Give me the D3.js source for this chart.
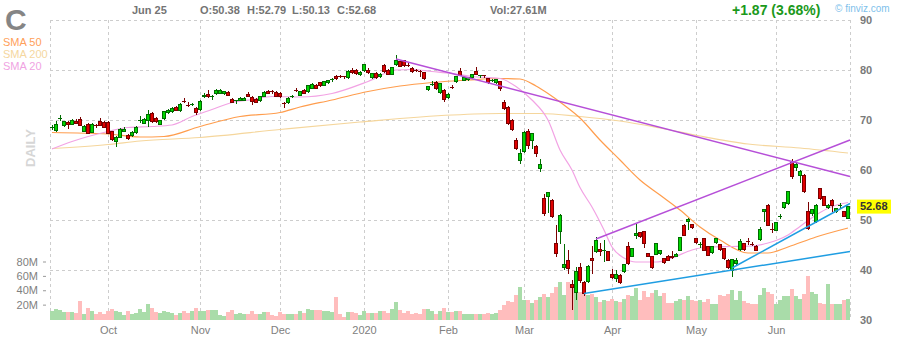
<!DOCTYPE html>
<html>
<head>
<meta charset="utf-8">
<script src="https://cdn.jsdelivr.net/npm/d3@7"></script>
<style>
body { margin: 0; background: #fff; }
svg { display: block; font-family: Arial, "Liberation Sans", sans-serif; }
</style>
</head>
<body>
<div id="chart"></div>
<script>
// C daily, Sep 11 2019 - Jun 25 2020 (one row per month)
const opens = [
  68.5,67.9,70.2,68.9,69.6,69.2,69.8,70.2,67.8,69.2,67.6,69.0,69.8,69.6,
  69.6,67.7,65.8,66.6,67.8,67.0,66.9,67.6,69.9,69.4,70.0,71.3,70.4,69.2,70.3,71.5,71.7,72.5,71.9,73.8,73.1,73.1,72.3,
  72.1,74.7,75.2,74.6,75.3,75.4,75.3,75.5,74.1,73.8,74.0,74.0,75.1,74.5,74.1,73.9,74.8,75.7,75.7,75.5,
  75.4,73.5,73.5,74.6,76.1,75.0,76.0,75.7,76.4,77.0,77.5,77.0,77.5,77.9,78.8,78.8,78.7,78.5,80.0,80.0,79.1,
  79.9,79.9,78.5,79.3,78.7,80.9,80.0,79.2,81.1,81.7,81.9,81.1,80.3,80.0,79.8,79.5,76.1,77.1,77.5,75.5,76.0,
  74.5,76.6,77.7,79.8,78.0,78.1,78.5,79.8,78.8,78.9,78.3,77.8,77.5,77.7,73.5,72.5,70.0,66.0,62.0,
  63.7,67.7,66.0,64.8,60.3,54.3,54.8,54.0,45.3,47.7,40.5,42.0,37.2,35.5,40.5,37.5,37.7,42.3,43.7,44.2,44.0,43.7,
  39.2,38.3,39.0,39.7,44.8,42.8,46.9,47.5,47.7,43.3,42.7,43.2,43.3,42.3,42.8,42.8,42.8,44.0,49.0,49.7,49.1,
  46.3,45.1,46.3,44.7,43.5,45.5,45.1,44.3,42.0,40.0,41.3,44.1,45.3,45.9,45.3,44.8,46.1,51.7,53.0,48.1,
  48.0,50.6,52.5,53.3,61.5,60.5,59.0,59.0,51.7,51.3,49.8,56.3,54.7,52.5,54.0,51.7,52.8,51.7,50.38
];
const highs = [
  69.0,69.8,71.0,69.9,69.8,70.3,70.2,70.6,69.0,69.4,69.4,69.2,70.4,69.8,
  69.8,67.9,66.8,68.4,68.6,67.2,67.8,68.8,70.8,70.4,72.0,71.6,70.6,70.0,71.8,72.2,72.6,72.8,73.4,74.4,73.6,73.5,72.6,
  74.0,75.5,76.0,75.0,76.2,76.2,75.9,75.8,74.4,74.1,74.6,74.6,75.6,74.8,74.4,74.9,75.8,76.0,76.0,75.8,
  75.7,73.7,74.6,75.0,76.4,75.9,76.2,77.0,77.4,77.3,77.7,77.9,78.1,78.4,79.0,79.0,78.9,80.0,80.4,80.2,79.8,
  81.3,80.4,79.5,79.6,79.4,81.2,80.2,80.7,83.0,81.9,82.1,81.4,80.6,80.2,80.0,79.7,76.9,77.8,77.8,77.5,76.2,
  75.4,77.0,78.9,80.5,78.7,78.7,79.3,80.7,79.1,79.1,78.5,78.2,78.3,77.9,74.0,72.8,70.3,66.4,64.3,
  67.8,68.3,67.5,65.0,62.3,55.3,55.6,54.3,49.0,51.3,45.2,44.0,38.0,40.6,41.5,37.8,41.0,44.8,46.6,45.4,46.0,43.9,
  40.3,40.0,39.2,41.3,45.7,44.5,49.3,47.7,47.9,43.5,42.9,45.5,44.1,42.5,43.0,43.8,43.4,46.7,49.3,50.5,49.3,
  46.5,45.6,46.5,44.9,44.9,46.5,45.3,44.5,42.2,42.3,42.4,46.2,45.5,46.4,45.6,45.0,48.6,52.2,53.2,49.5,
  49.7,51.3,53.7,55.9,62.3,61.5,60.0,59.2,53.7,52.3,53.2,56.5,54.9,53.2,54.2,52.5,53.4,51.9,52.79
];
const lows = [
  68.0,67.6,69.8,68.7,68.2,69.0,69.2,68.8,67.6,67.2,67.4,68.4,68.8,68.4,
  67.2,65.8,64.6,66.4,67.6,66.0,66.6,67.2,69.5,69.2,68.6,69.4,69.4,69.0,70.1,71.3,71.5,71.8,71.6,73.4,72.6,72.8,71.0,
  71.9,74.5,74.5,74.0,75.1,75.2,75.1,74.8,73.4,73.2,73.8,73.8,74.6,73.1,73.4,73.7,74.6,75.2,75.3,74.6,
  74.5,72.4,73.3,74.4,75.6,74.8,75.2,75.5,76.2,76.2,76.7,76.8,77.3,77.7,78.1,78.4,78.2,78.3,79.3,79.1,78.9,
  79.7,79.3,78.3,78.3,78.5,79.5,79.0,79.0,80.9,80.6,80.7,80.6,79.5,79.6,78.7,78.1,75.8,76.8,76.1,75.3,73.6,
  74.3,76.2,77.5,78.8,77.8,77.9,78.3,79.0,78.5,78.4,77.3,77.6,77.3,75.9,72.0,69.1,67.8,64.0,61.3,
  63.5,64.3,64.3,62.6,59.7,50.8,51.4,50.4,42.7,45.3,40.0,39.3,32.0,34.0,37.4,34.8,37.5,39.3,43.5,42.8,41.7,41.8,
  38.3,37.7,37.3,39.5,41.1,42.6,46.3,46.5,44.4,42.6,40.3,43.0,43.1,41.3,41.8,42.3,42.6,43.8,46.8,48.1,48.3,
  45.3,44.4,43.8,42.8,43.3,45.3,43.9,42.1,40.3,38.7,41.1,43.9,43.9,45.0,44.8,43.8,45.9,49.7,48.8,47.5,
  47.8,50.3,52.3,53.1,58.3,59.8,57.5,55.5,48.1,50.9,49.4,54.1,52.8,52.3,51.7,51.5,52.2,50.6,50.13
];
const closes = [
  68.7,69.2,70.4,69.7,69.2,70.0,69.4,69.0,68.8,67.4,69.2,68.8,69.0,68.6,
  67.4,66.1,66.6,68.2,68.2,66.4,67.5,68.6,70.1,70.2,71.2,69.7,69.7,69.9,71.7,72.0,72.3,72.0,73.2,73.7,73.0,73.3,71.5,
  73.8,75.0,74.7,74.8,76.0,76.0,75.7,74.9,73.6,73.9,74.3,74.4,74.7,73.7,73.5,74.7,75.5,75.3,75.6,74.8,
  74.8,73.2,74.3,74.8,76.0,75.8,75.4,76.9,77.2,76.4,76.9,77.7,77.9,78.2,78.3,78.7,78.6,79.7,79.5,79.3,79.6,
  81.1,79.5,79.3,78.5,79.2,79.7,79.2,80.5,81.9,80.8,80.9,81.0,79.7,79.9,79.6,78.3,76.7,77.3,76.3,77.3,74.1,
  75.1,76.5,78.7,79.0,78.5,78.5,79.1,79.1,78.9,78.8,77.5,77.9,78.1,76.3,72.3,69.3,68.1,64.3,63.3,
  67.5,65.0,67.3,63.3,61.1,51.3,55.5,50.7,43.3,51.0,41.2,40.3,36.5,39.7,38.0,35.3,40.8,41.9,46.0,43.7,44.1,42.0,
  38.5,39.1,37.5,41.1,41.3,44.3,47.3,46.7,45.3,42.8,40.5,45.3,43.9,41.5,42.0,42.5,43.2,46.5,47.0,50.1,48.5,
  45.5,45.2,44.0,43.0,44.7,46.3,44.1,42.3,40.5,42.1,42.0,45.7,44.1,45.8,45.2,44.0,48.1,52.1,49.0,48.0,
  49.5,50.8,53.5,55.7,58.7,61.2,59.7,55.7,48.3,52.1,53.0,54.3,53.0,53.0,53.0,52.3,53.0,50.8,52.68
];
// volume in millions
const volumes = [
  11,14,12.5,10,10,10,8.6,25,7.6,15,11,7,10,7,
  11,13.8,11,10,6,11,7.6,8.6,13.8,10,20.7,15,10,8.6,11,10,8.6,6,8.6,11,8.6,11,15.7,
  11,11,12.4,12.4,12.4,6,4.6,10,12.4,7.6,8.6,7.6,7.6,11,7.6,7,10,10,6,4.6,
  10,7.6,7.6,7.6,7,11,8.7,13.8,12,12.5,12.5,11,11,10,31,7,3,10,10,8.6,6,
  11,8.6,8.6,8.6,11,11,8.6,14.5,24,13,8.6,11,7,8.6,7,14,14,11,7,11,16,
  10,10,11,11,7,7,7,7,7,7,8.6,7,8.6,12.4,19,25,23,33,44.6,
  27,26,22.5,27,30,35,30,36,44.6,51,34,51,48,40,37.6,36,34,35,30,24,26,25,
  27.6,25,24,28,33,32,42.8,26,38.6,31,36,40,32,36,21.6,22.5,25,28.5,27,32,27,
  25,26,23.6,28.5,20.7,20.7,33,32,35,40,26,38.6,25,21.6,21,21,33,42.8,37.6,35,
  21,26,32,32,42,32,28.5,35,60,37.6,35,22.5,21,49,21,21,21,26,27.61
];

// month label, index of first trading day
const months = [["Oct",14],["Nov",37],["Dec",57],["2020",78],["Feb",99],["Mar",118],["Apr",140],["May",161],["Jun",181]];
const priceTicks = [30, 40, 50, 60, 70, 80, 90];
const volTicks = [20, 40, 60, 80];

// moving averages: [day index, value]
const sma20 = [[0,64.2],[5,65.7],[14,67.7],[19,68.5],[25,68.7],[30,69.0],[35,70.7],[40,72.1],[45,73.5],[50,74.1],[55,74.7],[62,74.6],[70,75.3],[79,77.7],[86,80.0],[90,80.1],[95,79.7],[100,79.3],[105,78.7],[112,78.3],[116,76.7],[120,74.0],[124,70.0],[127,64.0],[130,60.0],[132,56.5],[135,52.6],[138,48.0],[140,44.6],[143,42.4],[146,41.6],[151,41.6],[155,42.4],[160,44.0],[164,44.6],[170,44.7],[175,44.8],[179,45.4],[184,47.0],[187,48.7],[191,51.0],[195,52.7],[199,53.5]];
const sma50 = [[0,67.5],[14,67.2],[22,66.6],[28,66.7],[37,68.7],[47,70.7],[57,71.5],[62,72.6],[70,74.0],[79,75.7],[87,76.8],[95,77.5],[104,78.0],[112,78.3],[117,78.2],[121,76.8],[124,75.3],[128,73.0],[132,70.4],[137,66.0],[142,62.0],[147,58.0],[152,55.0],[157,52.0],[162,48.6],[167,46.0],[174,43.4],[179,43.4],[184,44.6],[191,46.6],[199,48.4]];
const sma200 = [[0,64.3],[14,65.1],[22,65.8],[37,66.5],[57,68.1],[77,69.6],[100,71.0],[112,71.3],[122,71.3],[132,70.7],[142,69.8],[152,68.4],[162,66.8],[174,65.2],[187,64.4],[199,63.4]];

// trend lines: [[day, price], [day, price]]
const purpleLines = [[[86,82.2],[199.5,58.7]], [[136,46.2],[199.5,66.0]]];
const blueLines = [[[133,35.3],[199.5,43.7]], [[170,40.4],[199.5,53.3]]];

const width = 900, height = 340;
const n = opens.length;

x = d3.scaleLinear().domain([0, n - 1]).range([52, 848]);
y = d3.scaleLinear().domain([30, 90]).range([320, 20]);
yVol = d3.scaleLinear().domain([0, 80]).range([319, 261.5]);

const isUp = i => closes[i] >= opens[i];

const svg = d3.create("svg")
    .attr("width", width)
    .attr("height", height)
    .attr("viewBox", [0, 0, width, height]);

// grid
const grid = svg.append("g")
    .attr("stroke", "#cdcdcd")
    .attr("stroke-dasharray", "3,3")
    .attr("shape-rendering", "crispEdges");
grid.selectAll("line.h")
    .data(priceTicks.filter(d => d > 30))
    .join("line")
    .attr("x1", 50).attr("x2", 851)
    .attr("y1", d => Math.round(y(d)) + 0.5)
    .attr("y2", d => Math.round(y(d)) + 0.5);
grid.selectAll("line.v")
    .data([50, ...months.map(m => x(m[1])), 850])
    .join("line")
    .attr("x1", d => Math.round(d) + 0.5).attr("x2", d => Math.round(d) + 0.5)
    .attr("y1", 20).attr("y2", 320);

// volume
svg.append("g")
    .attr("shape-rendering", "crispEdges")
    .selectAll("rect")
    .data(d3.range(n))
    .join("rect")
    .attr("x", i => Math.round(x(i)) - 2)
    .attr("width", 4)
    .attr("y", i => yVol(volumes[i]))
    .attr("height", i => 320 - yVol(volumes[i]))
    .attr("fill", i => isUp(i) ? "#a9dca9" : "#ffbdbd");

// moving averages
const maLine = d3.line()
    .x(d => x(d[0]))
    .y(d => y(d[1]))
    .curve(d3.curveMonotoneX);
[[sma200, "#f5d69c"], [sma50, "#ff9d4d"], [sma20, "#f2a3e4"]].forEach(([data, color]) => {
    svg.append("path")
        .attr("d", maLine(data))
        .attr("fill", "none")
        .attr("stroke", color)
        .attr("stroke-width", 1.2);
});

// candles
const candles = svg.append("g").attr("shape-rendering", "crispEdges");
candles.selectAll("g")
    .data(d3.range(n))
    .join("g")
    .each(function (i) {
        const g = d3.select(this);
        const cx = Math.round(x(i)) + 0.5;
        const edge = isUp(i) ? "#006b00" : "#7a0000";
        const fill = isUp(i) ? "#00d600" : "#e00000";
        g.append("line")
            .attr("x1", cx).attr("x2", cx)
            .attr("y1", y(highs[i])).attr("y2", y(lows[i]))
            .attr("stroke", edge);
        const top = y(Math.max(opens[i], closes[i]));
        const bot = y(Math.min(opens[i], closes[i]));
        if (bot - top < 1.5) {
            g.append("line")
                .attr("x1", cx - 2.5).attr("x2", cx + 1.5)
                .attr("y1", Math.round(top) + 0.5).attr("y2", Math.round(top) + 0.5)
                .attr("stroke", edge);
        } else {
            g.append("rect")
                .attr("x", cx - 2)
                .attr("y", top)
                .attr("width", 3)
                .attr("height", bot - top)
                .attr("fill", fill)
                .attr("stroke", edge);
        }
    });

// trend lines
const trend = d3.line().x(d => x(d[0])).y(d => y(d[1]));
svg.append("g")
    .selectAll("path")
    .data(purpleLines.map(d => [d, "#b64fd8"]).concat(blueLines.map(d => [d, "#1f9de2"])))
    .join("path")
    .attr("d", d => trend(d[0]))
    .attr("fill", "none")
    .attr("stroke", d => d[1])
    .attr("stroke-width", 1.5);

// price axis (right)
svg.append("g")
    .attr("transform", "translate(858,0)")
    .call(d3.axisRight(y).tickValues(priceTicks).tickSize(0).tickPadding(2))
    .call(g => g.select(".domain").remove())
    .attr("font-size", 11)
    .attr("font-family", null)
    .attr("font-weight", "bold")
    .call(g => g.selectAll("text").attr("fill", "#7a7a7a"));

// month axis
svg.append("g")
    .attr("transform", "translate(0,324)")
    .call(d3.axisBottom(x).tickValues(months.map(m => m[1])).tickFormat((d, i) => months[i][0]).tickSize(0).tickPadding(2))
    .call(g => g.select(".domain").remove())
    .attr("font-size", 11)
    .attr("font-family", null)
    .call(g => g.selectAll("text").attr("fill", "#808080"));

// volume axis (left)
svg.append("g")
    .attr("transform", "translate(46,0)")
    .call(d3.axisLeft(yVol).tickValues(volTicks).tickFormat(d => d + "M").tickSize(3).tickPadding(5))
    .call(g => g.select(".domain").remove())
    .attr("font-size", 11)
    .attr("font-family", null)
    .call(g => g.selectAll("line").attr("stroke", "#999"))
    .call(g => g.selectAll("text").attr("fill", "#808080"));

// last price tag
const last = closes[n - 1];
svg.append("rect")
    .attr("x", 857).attr("y", y(last) - 7)
    .attr("width", 34).attr("height", 14)
    .attr("fill", "#ffff00");
svg.append("text")
    .attr("x", 860).attr("y", y(last))
    .attr("dy", "0.35em")
    .attr("font-size", 11)
    .attr("font-weight", "bold")
    .attr("fill", "#333")
    .text(last.toFixed(2));

// header
svg.append("text")
    .attr("x", 5).attr("y", 30)
    .attr("font-size", 30).attr("font-weight", "bold")
    .attr("fill", "#858585")
    .text("C");
[["SMA 50", "#ffa05a", 46], ["SMA 200", "#f5d7a0", 58], ["SMA 20", "#f0a3e2", 70]].forEach(([t, c, yy]) => {
    svg.append("text").attr("x", 3).attr("y", yy)
        .attr("font-size", 11).attr("fill", c).text(t);
});

const header = [["Jun 25", 132], ["O:50.38", 200], ["H:52.79", 247], ["L:50.13", 292], ["C:52.68", 337], ["Vol:27.61M", 490]];
svg.append("g")
    .selectAll("text")
    .data(header)
    .join("text")
    .attr("x", d => d[1]).attr("y", 14)
    .attr("font-size", 11).attr("font-weight", "bold")
    .attr("fill", "#747474")
    .text(d => d[0]);

svg.append("text")
    .attr("x", 732).attr("y", 15)
    .attr("font-size", 14).attr("font-weight", "bold")
    .attr("fill", "#1b991b")
    .text("+1.87 (3.68%)");

svg.append("text")
    .attr("x", 835).attr("y", 12)
    .attr("font-size", 10)
    .attr("fill", "#80bfeb")
    .text("\u00a9 finviz.com");

svg.append("text")
    .attr("transform", "translate(35,148) rotate(-90)")
    .attr("text-anchor", "middle")
    .attr("font-size", 13).attr("font-weight", "bold")
    .attr("fill", "#d6d6d6")
    .text("DAILY");

d3.select("#chart").node().appendChild(svg.node());
</script>
</body>
</html>
